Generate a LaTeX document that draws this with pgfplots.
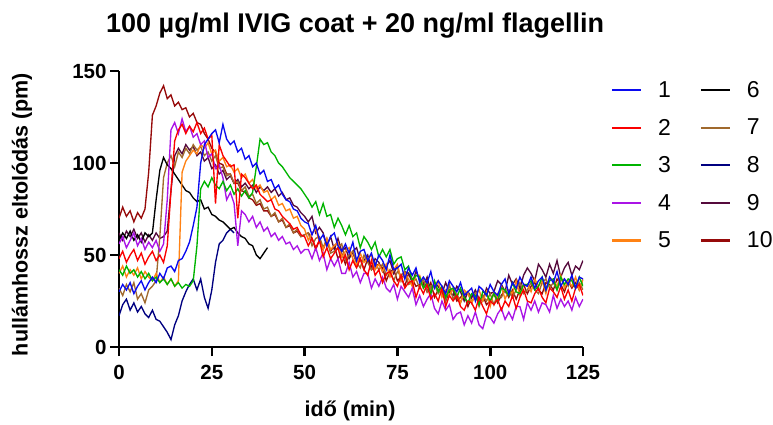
\documentclass[border=0pt]{standalone}
\usepackage{fontspec}
\setmainfont{Liberation Sans}
\usepackage{pgfplots}
\usepackage{pgfplotstable}
\pgfplotsset{compat=1.18}

\definecolor{c1}{RGB}{10,10,240}
\definecolor{c2}{RGB}{250,0,0}
\definecolor{c3}{RGB}{0,180,0}
\definecolor{c4}{RGB}{170,20,230}
\definecolor{c5}{RGB}{255,130,20}
\definecolor{c6}{RGB}{0,0,0}
\definecolor{c7}{RGB}{160,105,45}
\definecolor{c8}{RGB}{0,0,128}
\definecolor{c9}{RGB}{85,10,60}
\definecolor{c10}{RGB}{150,10,10}

% one value per minute, t = 0,1,2,...
\pgfplotstableread[header=false,row sep=\\]{
30\\34\\31\\35\\29\\33\\36\\31\\35\\38\\ 35\\40\\37\\43\\44\\41\\47\\48\\52\\57\\ 66\\76\\100\\110\\113\\116\\118\\111\\121\\113\\ 110\\112\\106\\108\\102\\104\\98\\100\\94\\96\\ 90\\91\\86\\88\\83\\80\\79\\75\\74\\70\\ 68\\
67\\61\\66\\58\\61\\55\\60\\62\\55\\52\\ 56\\51\\57\\47\\52\\53\\47\\51\\44\\50\\ 47\\42\\50\\42\\43\\45\\37\\43\\39\\43\\ 35\\38\\35\\41\\32\\36\\33\\29\\36\\33\\ 30\\35\\28\\30\\32\\25\\33\\31\\28\\34\\ 30\\28\\34\\37\\29\\35\\32\\38\\34\\33\\ 38\\32\\36\\38\\31\\38\\35\\41\\33\\37\\ 34\\39\\32\\38\\37\\
}\sA
\pgfplotstableread[header=false,row sep=\\]{
48\\52\\46\\50\\53\\47\\51\\45\\49\\52\\ 47\\50\\46\\55\\85\\112\\118\\121\\116\\120\\ 117\\122\\116\\119\\113\\115\\78\\110\\104\\101\\ 98\\99\\70\\94\\92\\89\\86\\88\\83\\81\\ 79\\80\\75\\74\\71\\69\\67\\64\\65\\61\\ 60\\
55\\59\\54\\58\\49\\54\\48\\51\\54\\46\\ 50\\42\\47\\43\\48\\42\\39\\47\\39\\42\\ 35\\40\\41\\36\\33\\39\\32\\35\\36\\27\\ 33\\29\\34\\26\\29\\25\\32\\22\\28\\25\\ 28\\22\\20\\25\\24\\20\\27\\22\\18\\25\\ 23\\26\\20\\25\\22\\28\\21\\27\\31\\25\\ 24\\29\\32\\27\\24\\32\\30\\27\\33\\26\\ 31\\25\\32\\34\\28\\
}\sB
\pgfplotstableread[header=false,row sep=\\]{
42\\39\\44\\40\\42\\38\\41\\37\\40\\36\\ 38\\35\\37\\34\\37\\33\\35\\32\\34\\33\\ 36\\55\\86\\90\\87\\92\\88\\86\\90\\85\\ 88\\83\\86\\82\\85\\81\\84\\98\\113\\110\\ 111\\106\\104\\100\\98\\95\\92\\90\\88\\86\\ 83\\
80\\76\\79\\72\\78\\71\\72\\65\\70\\66\\ 61\\66\\60\\62\\54\\60\\57\\53\\57\\49\\ 53\\49\\53\\45\\48\\49\\42\\44\\36\\39\\ 38\\32\\35\\29\\36\\30\\33\\27\\31\\32\\ 27\\32\\27\\24\\29\\28\\23\\30\\29\\25\\ 29\\25\\32\\31\\28\\35\\30\\29\\34\\34\\ 36\\31\\33\\38\\31\\36\\37\\31\\38\\34\\ 37\\36\\32\\38\\33\\
}\sC
\pgfplotstableread[header=false,row sep=\\]{
56\\60\\54\\58\\62\\55\\59\\53\\57\\54\\ 58\\52\\56\\80\\118\\122\\116\\124\\117\\120\\ 114\\116\\110\\112\\103\\105\\97\\99\\92\\80\\ 84\\78\\55\\74\\72\\68\\71\\65\\68\\63\\ 65\\60\\62\\58\\60\\56\\57\\53\\55\\51\\ 53\\
53\\48\\54\\47\\51\\42\\48\\44\\48\\40\\ 40\\46\\38\\41\\35\\40\\40\\32\\37\\33\\ 38\\32\\30\\34\\26\\33\\30\\27\\32\\23\\ 28\\22\\26\\29\\21\\18\\25\\20\\23\\15\\ 18\\19\\12\\17\\13\\19\\12\\10\\17\\16\\ 13\\18\\21\\15\\19\\15\\22\\22\\15\\24\\ 20\\25\\19\\24\\23\\19\\28\\21\\26\\22\\ 25\\20\\27\\22\\26\\
}\sD
\pgfplotstableread[header=false,row sep=\\]{
40\\44\\38\\42\\39\\43\\37\\41\\38\\36\\ 40\\35\\38\\34\\37\\33\\36\\95\\101\\104\\ 107\\105\\110\\108\\111\\105\\107\\101\\103\\98\\ 99\\95\\97\\92\\94\\89\\91\\86\\88\\84\\ 85\\80\\82\\77\\78\\74\\75\\70\\71\\66\\ 64\\
58\\62\\64\\57\\53\\59\\53\\55\\57\\49\\ 52\\54\\48\\44\\51\\46\\48\\50\\42\\45\\ 41\\45\\38\\42\\45\\36\\40\\37\\33\\39\\ 39\\32\\35\\30\\34\\36\\27\\31\\28\\32\\ 28\\24\\31\\29\\24\\28\\31\\25\\30\\22\\ 30\\27\\33\\26\\31\\29\\36\\28\\34\\34\\ 30\\37\\33\\36\\29\\38\\36\\33\\39\\32\\ 36\\33\\38\\31\\37\\
}\sE
\pgfplotstableread[header=false,row sep=\\]{
58\\62\\59\\63\\58\\61\\57\\62\\60\\62\\ 80\\96\\103\\99\\97\\94\\91\\88\\85\\84\\ 81\\79\\80\\75\\76\\72\\71\\69\\68\\66\\ 64\\65\\62\\60\\59\\56\\55\\50\\48\\51\\ 54\\
}\sF
\pgfplotstableread[header=false,row sep=\\]{
32\\28\\34\\30\\35\\26\\29\\24\\31\\33\\ 36\\60\\92\\100\\104\\98\\106\\103\\108\\105\\ 110\\107\\109\\104\\106\\101\\104\\97\\98\\93\\ 94\\89\\90\\85\\87\\82\\83\\78\\80\\75\\ 76\\71\\73\\68\\70\\65\\67\\62\\64\\60\\ 61\\
62\\55\\59\\60\\54\\59\\51\\52\\54\\56\\ 47\\50\\52\\46\\43\\50\\46\\42\\46\\42\\ 45\\39\\42\\36\\41\\39\\41\\34\\35\\37\\ 32\\37\\30\\33\\34\\29\\32\\25\\34\\26\\ 29\\24\\29\\30\\24\\29\\22\\28\\25\\29\\ 23\\29\\27\\31\\31\\27\\31\\35\\29\\31\\ 35\\31\\29\\35\\37\\32\\35\\31\\36\\37\\ 33\\38\\32\\35\\31\\
}\sG
\pgfplotstableread[header=false,row sep=\\]{
17\\23\\26\\20\\24\\19\\22\\18\\16\\20\\ 15\\14\\11\\8\\4\\12\\17\\25\\30\\34\\ 37\\31\\37\\27\\21\\31\\46\\56\\58\\62\\ 64\\62\\
}\sH
\pgfplotstableread[header=false,row sep=\\]{
62\\58\\63\\60\\64\\59\\62\\57\\61\\58\\ 62\\59\\60\\63\\85\\104\\108\\105\\110\\107\\ 109\\104\\106\\101\\103\\97\\99\\94\\96\\91\\ 93\\89\\91\\87\\89\\86\\88\\84\\87\\85\\ 87\\84\\86\\82\\84\\80\\81\\77\\76\\73\\ 71\\
68\\71\\62\\65\\62\\55\\60\\53\\59\\52\\ 54\\48\\52\\54\\47\\47\\50\\43\\48\\46\\ 41\\44\\47\\40\\44\\36\\41\\40\\35\\41\\ 37\\33\\38\\30\\35\\33\\29\\35\\30\\28\\ 33\\30\\25\\30\\27\\31\\26\\25\\32\\29\\ 30\\36\\34\\30\\39\\34\\37\\32\\39\\43\\ 40\\36\\45\\42\\38\\45\\40\\47\\38\\43\\ 46\\39\\44\\42\\47\\
}\sI
\pgfplotstableread[header=false,row sep=\\]{
70\\76\\71\\74\\68\\73\\70\\75\\95\\126\\ 131\\138\\142\\135\\137\\131\\133\\129\\130\\125\\ 127\\122\\121\\116\\113\\108\\106\\100\\99\\94\\ 94\\89\\89\\85\\84\\81\\80\\77\\78\\74\\ 74\\71\\72\\68\\69\\65\\66\\62\\63\\60\\ 61\\
62\\59\\53\\58\\53\\58\\52\\55\\48\\51\\ 45\\50\\51\\46\\48\\42\\48\\42\\44\\45\\ 43\\36\\41\\42\\36\\38\\33\\40\\37\\33\\ 34\\35\\30\\35\\27\\31\\30\\25\\30\\31\\ 25\\27\\29\\22\\27\\29\\24\\28\\23\\25\\ 29\\24\\28\\31\\27\\31\\26\\31\\34\\29\\ 33\\35\\31\\29\\35\\34\\31\\37\\34\\30\\ 36\\32\\35\\31\\37\\
}\sJ

\begin{document}
\begin{tikzpicture}
\path[use as bounding box] (0pt,0pt) rectangle (773pt,424pt);
\begin{axis}[
  at={(119pt,77pt)}, anchor=south west,
  scale only axis, width=464pt, height=276pt,
  xmin=0, xmax=125, ymin=0, ymax=150,
  xtick={0,25,50,75,100,125}, ytick={0,50,100,150},
  axis x line=bottom, axis y line=left,
  axis line style={-, line width=2.6pt, black},
  tick align=outside, major tick length=9pt,
  tick style={line width=2.6pt, black},
  /pgf/number format/assume math mode=true,
  ticklabel style={font=\bfseries\fontsize{20.5}{24}\selectfont},
  xticklabel style={yshift=-6pt},
  title={100 µg/ml IVIG coat + 20 ng/ml flagellin},
  title style={at={(axis description cs:0.509,1.142)}, anchor=center, font=\bfseries\fontsize{27}{32}\selectfont},
  xlabel={idő (min)},
  xlabel style={at={(axis description cs:0.498,-0.232)}, anchor=center, font=\bfseries\fontsize{21.5}{26}\selectfont},
  ylabel={hullámhossz eltolódás (pm)},
  ylabel style={at={(axis description cs:-0.209,0.48)}, anchor=center, font=\bfseries\fontsize{21.5}{26}\selectfont},
  legend image code/.code={\draw[#1, line width=2.1pt] (0pt,0pt) -- (29pt,0pt);},
  legend columns=2, legend cell align=left,
  legend style={draw=none, fill=none, at={(axis description cs:1.0603,0.962)}, anchor=north west,
    font=\fontsize{23}{27}\selectfont, inner sep=0pt, outer sep=0pt, row sep=20pt,
    nodes={inner sep=0pt},
    /tikz/every odd column/.append style={column sep=16pt},
    /tikz/every even column/.append style={column sep=29pt}},
  every axis plot/.append style={line width=1.35pt},
]
\addplot[c10, forget plot] table[x expr=\coordindex, y index=0] {\sJ};
\addplot[c9,  forget plot] table[x expr=\coordindex, y index=0] {\sI};
\addplot[c8,  forget plot] table[x expr=\coordindex, y index=0] {\sH};
\addplot[c7,  forget plot] table[x expr=\coordindex, y index=0] {\sG};
\addplot[c6,  forget plot] table[x expr=\coordindex, y index=0] {\sF};
\addplot[c5,  forget plot] table[x expr=\coordindex, y index=0] {\sE};
\addplot[c4,  forget plot] table[x expr=\coordindex, y index=0] {\sD};
\addplot[c3,  forget plot] table[x expr=\coordindex, y index=0] {\sC};
\addplot[c2,  forget plot] table[x expr=\coordindex, y index=0] {\sB};
\addplot[c1,  forget plot] table[x expr=\coordindex, y index=0] {\sA};
\addlegendimage{c1}\addlegendentry{1}
\addlegendimage{c6}\addlegendentry{6}
\addlegendimage{c2}\addlegendentry{2}
\addlegendimage{c7}\addlegendentry{7}
\addlegendimage{c3}\addlegendentry{3}
\addlegendimage{c8}\addlegendentry{8}
\addlegendimage{c4}\addlegendentry{4}
\addlegendimage{c9}\addlegendentry{9}
\addlegendimage{c5}\addlegendentry{5}
\addlegendimage{c10}\addlegendentry{10}
\end{axis}
\end{tikzpicture}
\end{document}
